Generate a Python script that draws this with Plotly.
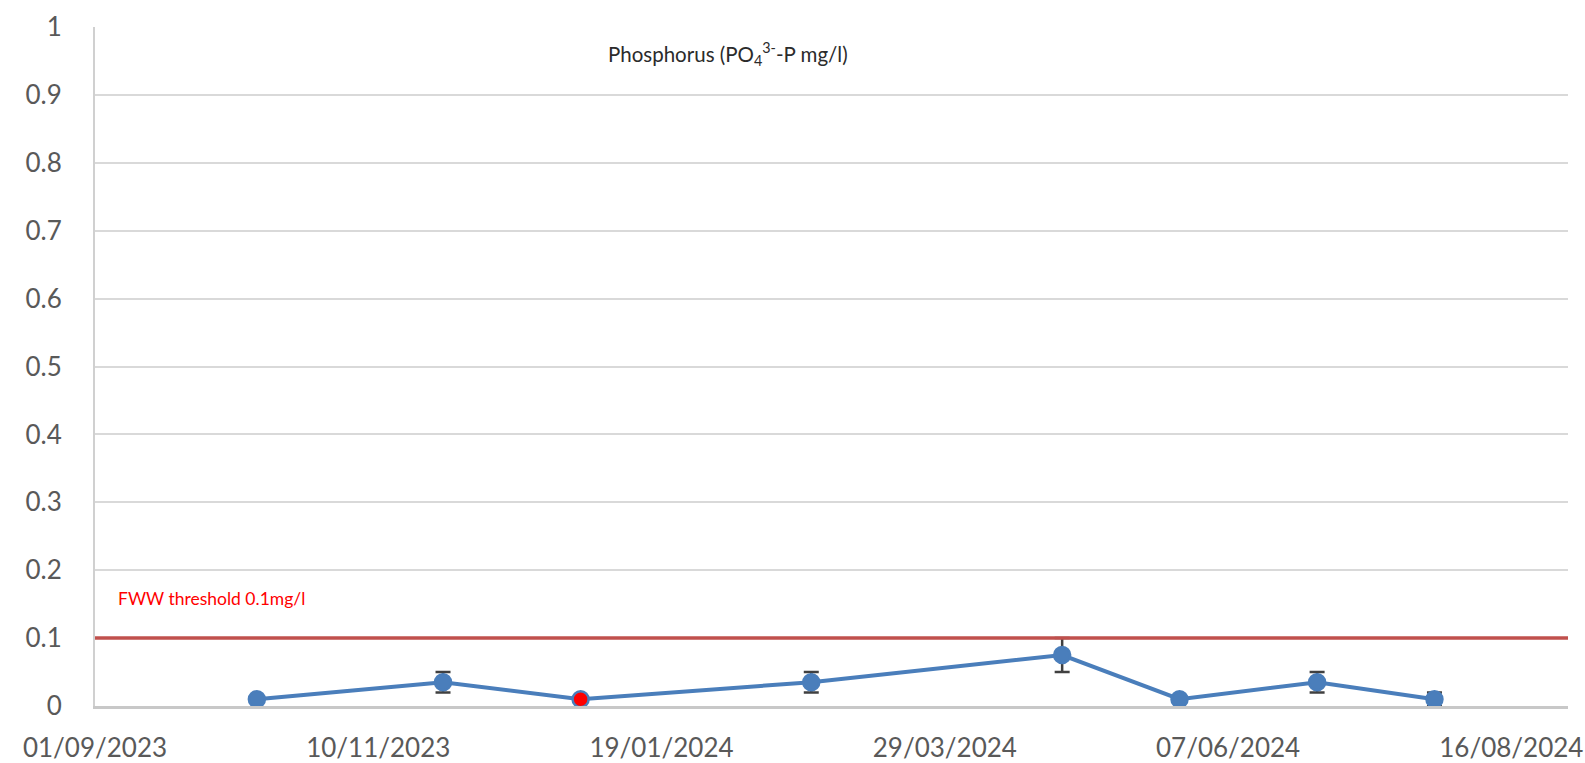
import plotly.graph_objects as go

# Phosphate sampling results
sample_dates = ["2023-10-11", "2023-11-26", "2023-12-30", "2024-02-25",
                "2024-04-27", "2024-05-26", "2024-06-29", "2024-07-28"]
phosphate_mg_l = [0.01, 0.035, 0.01, 0.035, 0.075, 0.01, 0.035, 0.01]
phosphate_err = [0, 0.015, 0, 0.015, 0.025, 0, 0.015, 0.01]
point_colors = ["#4A7EBB", "#4A7EBB", "#FF0000", "#4A7EBB",
                "#4A7EBB", "#4A7EBB", "#4A7EBB", "#4A7EBB"]

threshold_value = 0.1
threshold_label = "FWW threshold 0.1mg/l"
chart_title = "Phosphorus (PO<sub>4</sub><sup>3-</sup>-P mg/l)"

x_tick_dates = ["2023-09-01", "2023-11-10", "2024-01-19", "2024-03-29",
                "2024-06-07", "2024-08-16"]
x_tick_text = ["01/09/2023", "10/11/2023", "19/01/2024", "29/03/2024",
               "07/06/2024", "16/08/2024"]
x_range = ["2023-09-01", "2024-08-30"]

y_tick_vals = [0, 0.1, 0.2, 0.3, 0.4, 0.5, 0.6, 0.7, 0.8, 0.9, 1]
y_tick_text = ["0", "0.1", "0.2", "0.3", "0.4", "0.5", "0.6", "0.7", "0.8", "0.9", "1"]

fig = go.Figure()

fig.add_trace(go.Scatter(
    x=sample_dates,
    y=phosphate_mg_l,
    mode="lines+markers",
    line=dict(color="#4A7EBB", width=4),
    marker=dict(size=16, color=point_colors, line=dict(color="#4A7EBB", width=2.5)),
    error_y=dict(type="data", array=phosphate_err, visible=True,
                 color="#404040", thickness=2.5, width=7.5),
    cliponaxis=False,
    showlegend=False,
))

# Threshold line across the full plot width
fig.add_shape(
    type="line", xref="x domain", yref="y",
    x0=0, x1=1, y0=threshold_value, y1=threshold_value,
    line=dict(color="#C0504D", width=3.5),
    layer="above",
)

fig.add_annotation(
    text=threshold_label, xref="paper", yref="y",
    x=0.014, y=0.158, xanchor="left", yanchor="middle",
    showarrow=False, font=dict(family="Lato", size=17.5, color="#FF0000"),
)

fig.add_annotation(
    text=chart_title, xref="paper", yref="paper",
    x=0.430, y=0.96, xanchor="center", yanchor="middle",
    showarrow=False, font=dict(family="Lato", size=20.5, color="#2B2B2B"),
)

fig.update_layout(
    width=1585, height=763,
    margin=dict(l=95, r=17, t=27, b=57),
    paper_bgcolor="white", plot_bgcolor="white",
    font=dict(family="Lato", color="#595959"),
)

fig.update_xaxes(
    type="date", range=x_range,
    tickvals=x_tick_dates, ticktext=x_tick_text,
    showgrid=False, zeroline=False,
    showline=True, linecolor="#C8C8C8", linewidth=2.5,
    ticks="", ticklabelstandoff=17, automargin=False,
    tickfont=dict(family="Lato", size=26, color="#595959"),
)

fig.update_yaxes(
    range=[0, 1],
    tickvals=y_tick_vals, ticktext=y_tick_text,
    showgrid=True, gridcolor="#D9D9D9", gridwidth=2,
    zeroline=False,
    showline=True, linecolor="#D0D0D0", linewidth=2,
    ticks="", ticklabelstandoff=26, automargin=False,
    tickfont=dict(family="Lato", size=26, color="#595959"),
)

fig.write_html("out.html")
